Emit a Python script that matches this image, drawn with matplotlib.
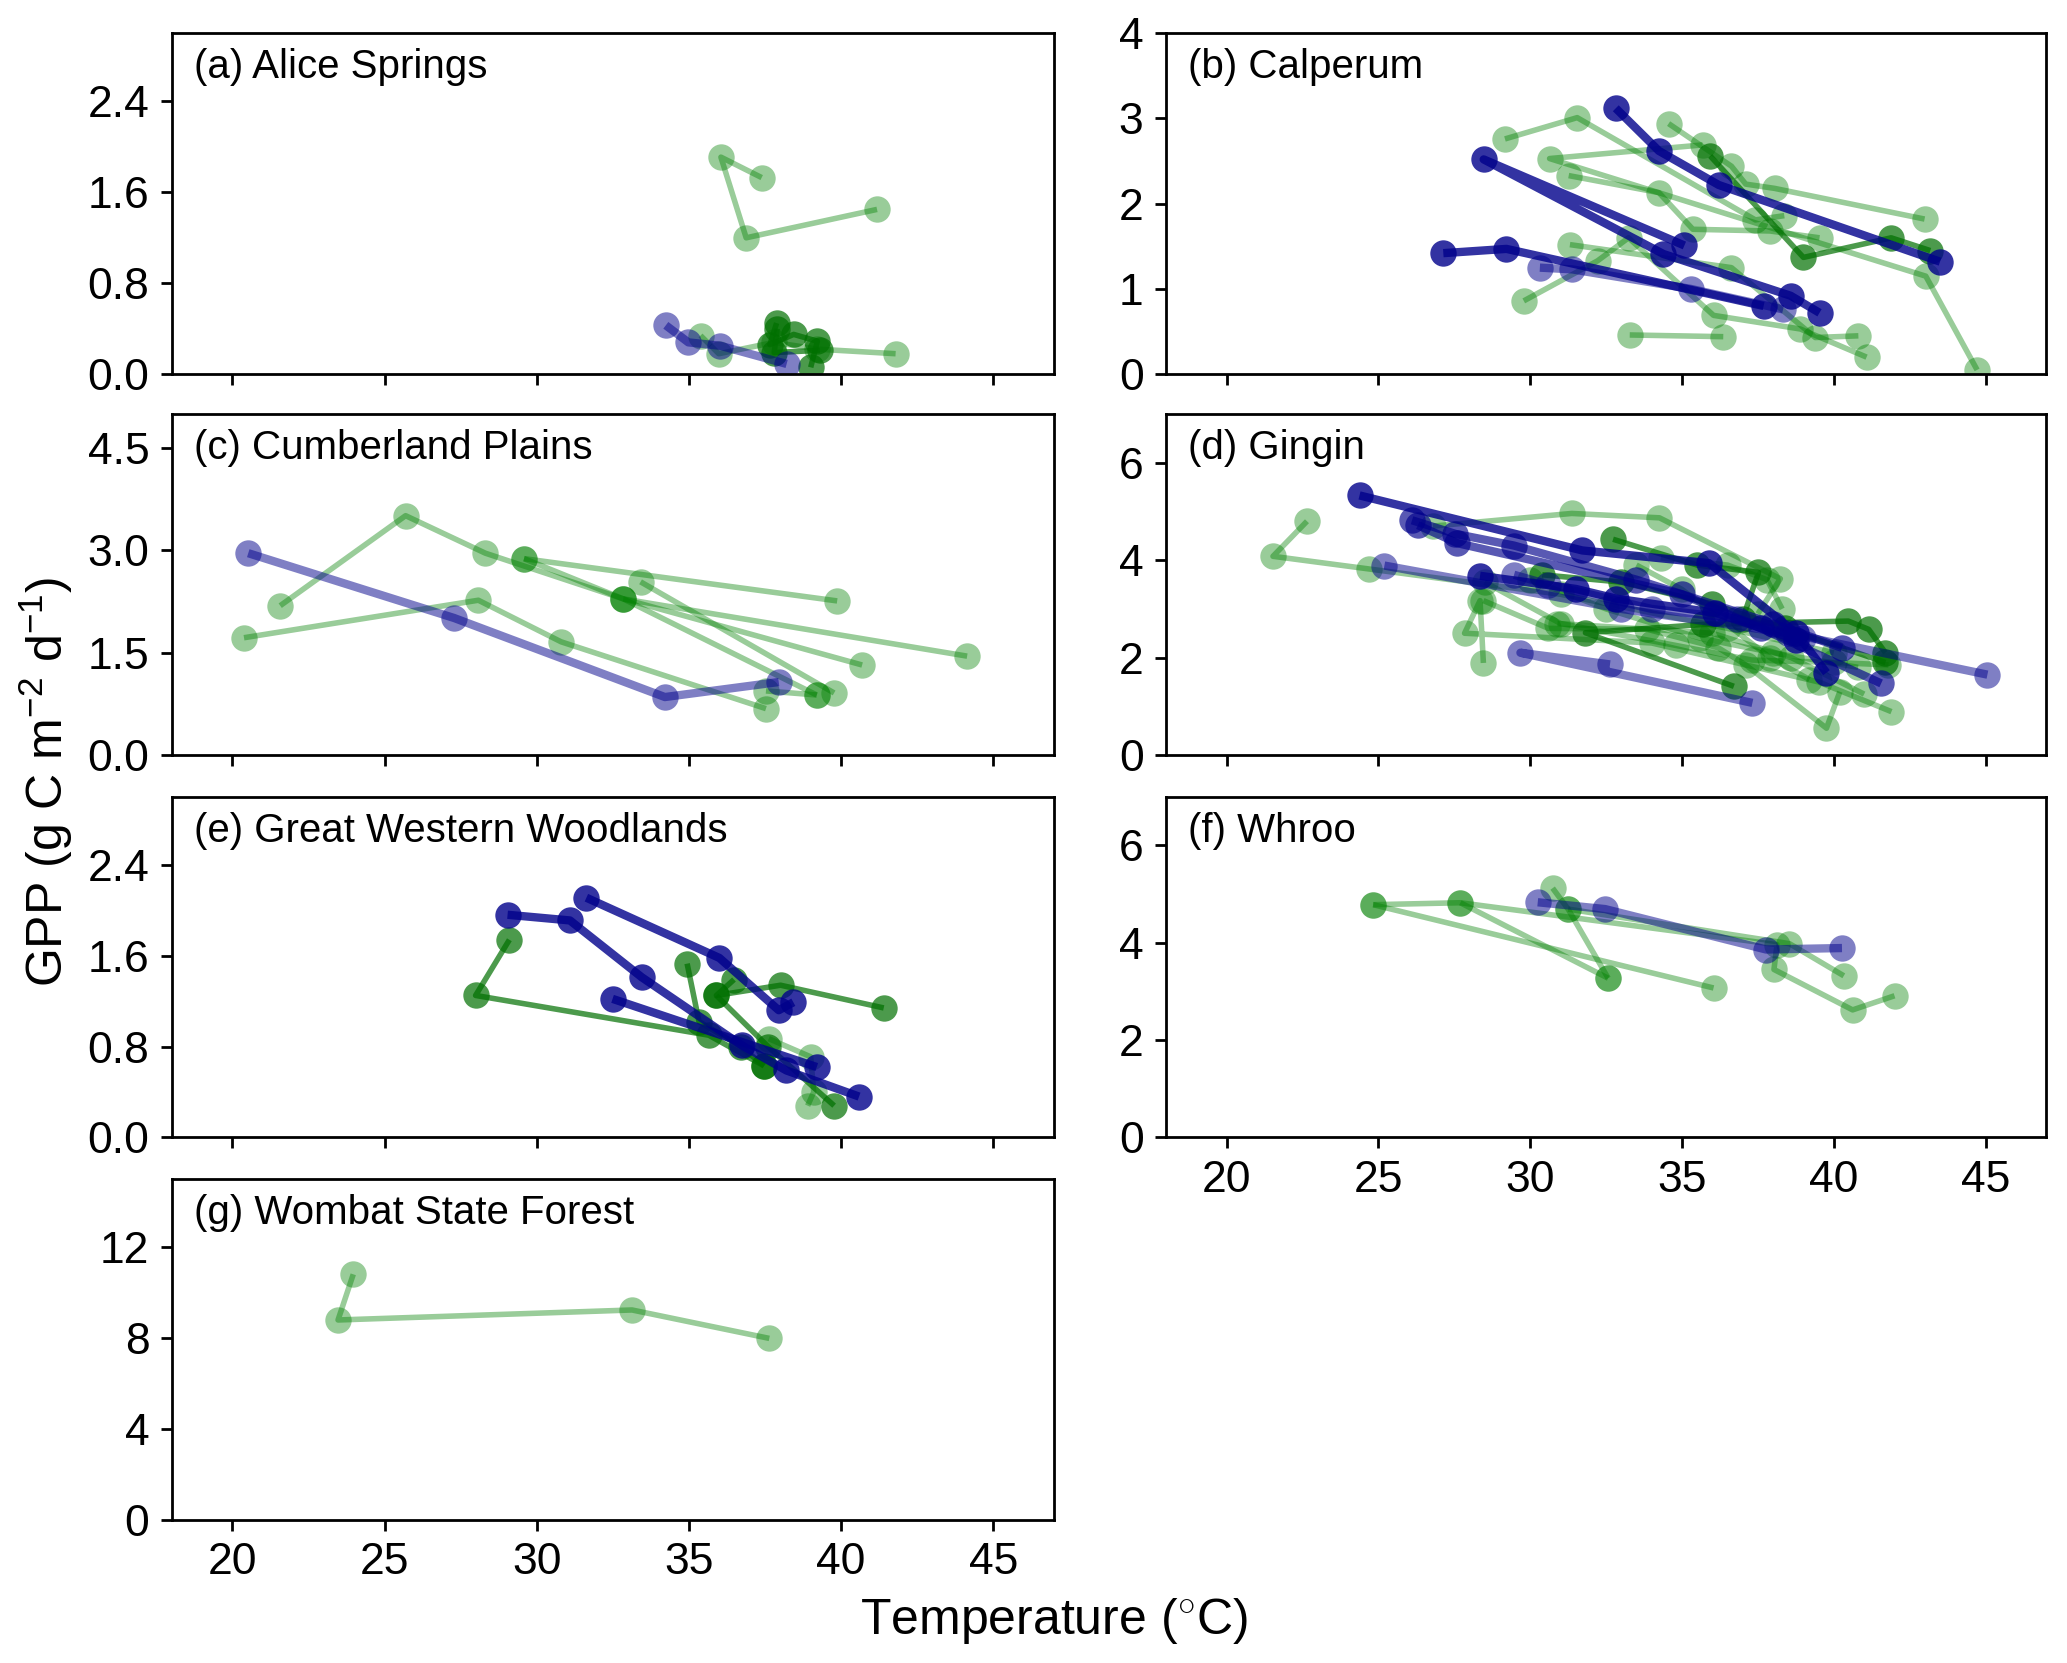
import matplotlib
matplotlib.use("Agg")
import matplotlib.pyplot as plt

plt.rcParams['font.family'] = ['Liberation Sans', 'DejaVu Sans']
plt.rcParams['mathtext.fontset'] = 'custom'
plt.rcParams['mathtext.rm'] = 'Liberation Sans'
plt.rcParams['mathtext.it'] = 'Liberation Sans:italic'

# ---------------- data: (kind, temperature degC, GPP) per heatwave event ----------------
ALICE = [
    ("lg", [37.39, 36.05, 36.88, 41.18], [1.73, 1.91, 1.20, 1.45]),
    ("lg", [35.38, 35.98, 37.80, 39.22, 41.79], [0.34, 0.18, 0.28, 0.22, 0.18]),
    ("dg", [37.88, 37.66, 38.44, 39.22, 39.00], [0.45, 0.26, 0.35, 0.29, 0.06]),
    ("dg", [37.90, 37.80, 39.30], [0.40, 0.19, 0.21]),
    ("lb", [34.24, 34.98, 36.03, 38.21], [0.43, 0.28, 0.25, 0.09]),
]

CALPERUM = [
    ("lg", [29.17, 31.55, 37.42, 38.37], [2.76, 3.01, 1.81, 1.86]),
    ("lg", [34.56, 36.63, 37.10, 38.05, 42.99], [2.94, 2.44, 2.23, 2.18, 1.82]),
    ("lg", [35.68, 30.64, 43.03, 44.72], [2.69, 2.53, 1.15, 0.05]),
    ("lg", [31.27, 34.24, 35.36, 37.90, 39.53], [2.33, 2.13, 1.70, 1.68, 1.60]),
    ("lg", [29.79, 32.22, 33.24, 36.04, 38.90, 41.08], [0.86, 1.33, 1.60, 0.69, 0.53, 0.20]),
    ("lg", [31.31, 36.63, 39.39, 40.81], [1.52, 1.25, 0.43, 0.45]),
    ("lg", [33.28, 36.36], [0.46, 0.44]),
    ("dg", [35.93, 39.00, 41.89, 43.18], [2.56, 1.37, 1.60, 1.45]),
    ("lb", [30.32, 31.38, 35.30, 38.33], [1.25, 1.23, 1.00, 0.76]),
    ("db", [32.82, 34.24, 36.21, 43.50], [3.12, 2.62, 2.22, 1.32]),
    ("db", [35.08, 28.47, 34.39, 38.58, 39.53], [1.51, 2.52, 1.41, 0.92, 0.72]),
    ("db", [27.14, 29.22, 37.69], [1.42, 1.47, 0.80]),
]

CUMBERLAND = [
    ("lg", [21.57, 25.69, 28.31, 32.84, 39.20], [2.19, 3.51, 2.96, 2.29, 0.88]),
    ("lg", [29.58, 39.87], [2.88, 2.26]),
    ("lg", [29.58, 32.84, 40.69], [2.88, 2.29, 1.32]),
    ("lg", [32.84, 44.14], [2.29, 1.45]),
    ("lg", [20.38, 28.08, 30.80, 37.53], [1.72, 2.27, 1.66, 0.68]),
    ("lg", [33.41, 39.77], [2.54, 0.91]),
    ("lg", [37.53, 39.20], [0.94, 0.88]),
    ("lb", [20.52, 27.28, 34.21, 37.95], [2.96, 2.01, 0.85, 1.07]),
]

GINGIN = [
    ("lg", [22.65, 21.53, 24.69, 31.00, 36.50, 40.00], [4.80, 4.08, 3.82, 3.30, 2.60, 2.10]),
    ("lg", [26.80, 31.37, 34.26, 38.24, 37.50], [4.70, 4.96, 4.87, 3.62, 2.90]),
    ("lg", [28.46, 28.35, 27.84, 34.00, 39.50, 41.90], [1.89, 3.17, 2.50, 2.30, 1.50, 0.89]),
    ("lg", [28.46, 30.60, 33.86, 36.20, 37.10, 39.76, 40.20], [3.17, 2.60, 2.58, 2.20, 1.85, 0.55, 1.30]),
    ("lg", [30.00, 32.50, 35.60, 38.00, 40.80], [3.60, 3.00, 2.40, 2.10, 1.80]),
    ("lg", [28.50, 31.00, 34.80, 37.30, 40.00, 41.80], [3.55, 2.70, 2.25, 1.95, 1.90, 1.85]),
    ("lg", [34.30, 36.50, 37.80, 38.30], [4.05, 3.90, 3.60, 3.00]),
    ("lg", [33.50, 35.00, 37.90, 39.20], [3.90, 3.40, 2.00, 1.55]),
    ("lg", [30.90, 36.00, 38.60, 41.00], [2.70, 2.50, 2.00, 1.25]),
    ("dg", [32.73, 35.50, 37.52, 37.00], [4.43, 3.90, 3.75, 2.80]),
    ("dg", [36.71, 31.82, 35.69, 40.48, 41.15, 41.70], [1.41, 2.51, 2.68, 2.75, 2.58, 2.10]),
    ("dg", [30.40, 33.00, 36.00, 38.40, 41.70], [3.70, 3.55, 3.10, 2.60, 1.90]),
    ("lb", [25.20, 33.00, 38.50, 45.06], [3.89, 3.00, 2.50, 1.65]),
    ("lb", [32.63, 29.68, 37.32], [1.86, 2.10, 1.07]),
    ("lb", [29.47, 30.60, 34.00, 36.80, 39.00], [3.70, 3.50, 3.00, 2.80, 2.40]),
    ("mb", [26.11, 27.54, 29.47, 33.50, 38.00, 40.27], [4.82, 4.54, 4.30, 3.60, 2.70, 2.20]),
    ("mb", [26.30, 27.60, 35.00, 37.60, 41.56], [4.72, 4.35, 3.30, 2.60, 1.47]),
    ("db", [24.38, 31.72, 35.89, 38.75, 39.76], [5.33, 4.20, 3.94, 2.51, 1.69]),
    ("db", [28.35, 31.51, 32.84, 36.10, 38.75], [3.68, 3.41, 3.21, 2.92, 2.37]),
]

GWW = [
    ("lg", [37.62, 39.00, 39.10, 38.90], [0.87, 0.71, 0.40, 0.28]),
    ("dg", [29.10, 27.99, 35.65, 37.47], [1.74, 1.25, 0.90, 0.63]),
    ("dg", [34.94, 35.33, 36.70, 37.47], [1.53, 1.02, 0.80, 0.63]),
    ("dg", [36.48, 35.90, 38.01, 41.40], [1.39, 1.25, 1.34, 1.14]),
    ("dg", [35.90, 37.60, 39.77], [1.25, 0.80, 0.28]),
    ("db", [29.04, 31.09, 33.45, 36.74, 38.20, 40.59], [1.96, 1.91, 1.41, 0.81, 0.59, 0.36]),
    ("db", [31.63, 36.00, 37.95, 38.43], [2.11, 1.58, 1.12, 1.19]),
    ("db", [32.49, 39.20], [1.22, 0.62]),
]

WHROO = [
    ("lg", [24.83, 27.70, 38.13, 38.03, 40.62, 42.00], [4.78, 4.82, 3.96, 3.45, 2.62, 2.91]),
    ("lg", [24.83, 36.04], [4.78, 3.07]),
    ("lg", [27.70, 32.57], [4.82, 3.27]),
    ("lg", [30.74, 31.25, 32.57], [5.12, 4.69, 3.27]),
    ("lg", [31.25, 38.54, 40.33], [4.69, 3.98, 3.32]),
    ("lb", [30.25, 32.47, 37.77, 40.27], [4.83, 4.69, 3.86, 3.89]),
]

WOMBAT = [
    ("lg", [23.97, 23.47, 33.13, 37.64], [10.81, 8.80, 9.24, 7.99]),
]

PANEL_TITLES = ["(a) Alice Springs", "(b) Calperum", "(c) Cumberland Plains", "(d) Gingin",
                "(e) Great Western Woodlands", "(f) Whroo", "(g) Wombat State Forest"]
PANEL_DATA = [ALICE, CALPERUM, CUMBERLAND, GINGIN, GWW, WHROO, WOMBAT]
Y_MAX = [3.0, 4.0, 5.0, 7.0, 3.0, 7.0, 15.0]
Y_TICKS = [[0, 0.8, 1.6, 2.4], [0, 1, 2, 3, 4], [0, 1.5, 3.0, 4.5], [0, 2, 4, 6],
           [0, 0.8, 1.6, 2.4], [0, 2, 4, 6], [0, 4, 8, 12]]
Y_TICKLABELS = [["0.0", "0.8", "1.6", "2.4"], ["0", "1", "2", "3", "4"],
                ["0.0", "1.5", "3.0", "4.5"], ["0", "2", "4", "6"],
                ["0.0", "0.8", "1.6", "2.4"], ["0", "2", "4", "6"], ["0", "4", "8", "12"]]
X_TICKS = [20, 25, 30, 35, 40, 45]

# ---------------- styles ----------------
STYLE = {
    "lg": dict(color="#008000", alpha=0.40, lw=2.0),
    "dg": dict(color="#007000", alpha=0.70, lw=2.0),
    "lb": dict(color="#00008B", alpha=0.50, lw=3.0),
    "mb": dict(color="#00008B", alpha=0.65, lw=3.0),
    "db": dict(color="#00008B", alpha=0.80, lw=3.0),
}

fig = plt.figure(figsize=(10.335, 8.315), dpi=200)

lefts = [0.083, 0.564]
widths = [0.427, 0.426]
bottoms = [0.775, 0.546, 0.316, 0.086]
height = 0.205

for i, (title, events) in enumerate(zip(PANEL_TITLES, PANEL_DATA)):
    row, col = divmod(i, 2)
    ax = fig.add_axes([lefts[col], bottoms[row], widths[col], height])
    for kind, t, g in events:
        st = STYLE[kind]
        ax.plot(t, g, "o-", color=st["color"], alpha=st["alpha"], lw=st["lw"],
                markersize=9.5, markeredgewidth=0, solid_capstyle="butt")
    ax.set_xlim(18, 47)
    ax.set_ylim(0, Y_MAX[i])
    ax.set_yticks(Y_TICKS[i])
    ax.set_yticklabels(Y_TICKLABELS[i])
    ax.set_xticks(X_TICKS)
    if i in (5, 6):
        ax.set_xticklabels([str(v) for v in X_TICKS])
    else:
        ax.set_xticklabels([])
    ax.tick_params(direction="out", length=4, width=1.0, labelsize=16, pad=4)
    for sp in ax.spines.values():
        sp.set_linewidth(1.0)
    ax.text(0.025, 0.90, title, transform=ax.transAxes, fontsize=14.5,
            ha="left", va="center")

fig.text(0.022, 0.53, r"GPP (g C m$^{-2}$ d$^{-1}$)", rotation=90,
         ha="center", va="center", fontsize=18)
fig.text(0.51, 0.025, r"Temperature ($^{\circ}$C)", ha="center", va="center",
         fontsize=18)

fig.savefig("out.png", dpi=200)
